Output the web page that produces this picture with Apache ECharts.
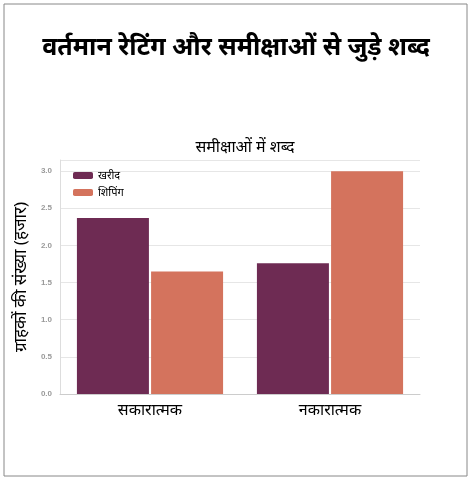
<!DOCTYPE html>
<html><head><meta charset="utf-8">
<script src="https://cdn.jsdelivr.net/npm/echarts@6/dist/echarts.min.js"></script>
<style>html,body{margin:0;padding:0;background:#fff}#c{width:472px;height:487px}</style>
</head><body><div id="c"></div>
<script>
const categories = ['सकारात्मक', 'नकारात्मक'];
const kharid = [2.37, 1.76];
const shipping = [1.65, 3.0];
const seriesNames = ['खरीद', 'शिपिंग'];
const font = '"Noto Sans", "Noto Sans CJK SC", sans-serif';
const chart = echarts.init(document.getElementById('c'));
chart.setOption({
  animation: false,
  graphic: [{type:'rect', shape:{x:4,y:4,width:463,height:472}, style:{fill:'none', stroke:'#888', lineWidth:1}}],
  title: [
    {text:'वर्तमान रेटिंग और समीक्षाओं से जुड़े शब्द', left:'center', top:30, textStyle:{fontFamily:font, fontSize:25, fontWeight:'bold', color:'#000'}},
    {text:'समीक्षाओं में शब्द', left:240, textAlign:'center', top:134, textStyle:{fontFamily:font, fontSize:16, fontWeight:'normal', color:'#000'}}
  ],
  legend: {left:68, top:165, orient:'vertical', itemWidth:20, itemHeight:7, itemGap:6,
    textStyle:{fontFamily:font, fontSize:11, color:'#000'}, data: seriesNames},
  grid: {left:60, right:52, top:160, bottom:93},
  xAxis: {type:'category', data:categories, axisTick:{show:false},
    axisLine:{lineStyle:{color:'#ccc'}},
    axisLabel:{fontFamily:font, fontSize:16, color:'#000', margin:8}},
  yAxis: {type:'value', min:0, max:3.15, interval:0.5,
    name:'ग्राहकों की संख्या (हजार)', nameLocation:'middle', nameGap:30,
    nameTextStyle:{fontFamily:font, fontSize:17, color:'#000'},
    axisLine:{show:true, lineStyle:{color:'#ddd'}},
    axisLabel:{showMaxLabel:false, fontSize:8, fontWeight:'bold', color:'#999', formatter:v=>v.toFixed(1)},
    splitLine:{lineStyle:{color:'#e6e6e6'}}},
  series: [
    {name:seriesNames[0], type:'bar', data:kharid, barWidth:'40%', barGap:'3%', itemStyle:{color:'#6e2b53'}},
    {name:seriesNames[1], type:'bar', data:shipping, barWidth:'40%', itemStyle:{color:'#d4735d'}}
  ]
});
</script></body></html>
